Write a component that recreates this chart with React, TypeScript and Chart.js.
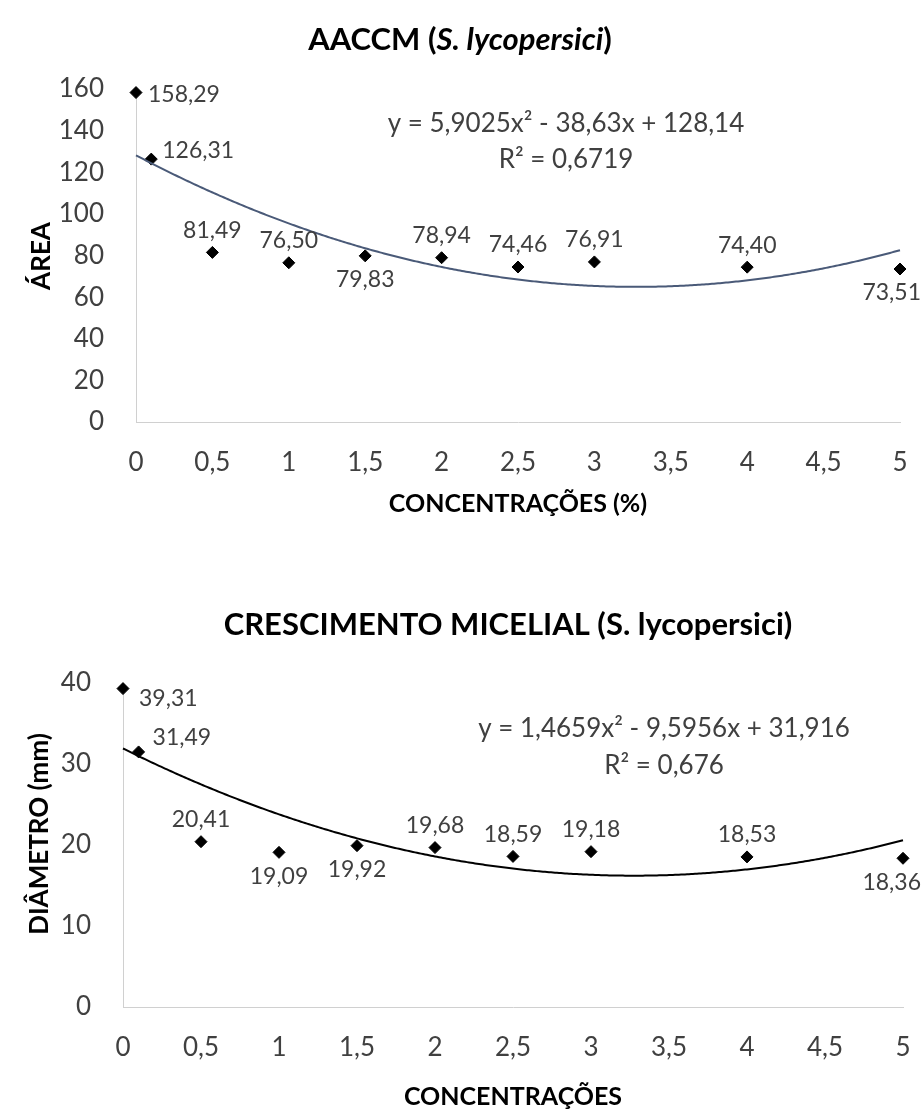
import React, { useEffect, useRef } from 'react';
import { Chart, registerables } from 'chart.js';

Chart.register(...registerables);

// ---------- DATA ----------
const concentrations = [0, 0.1, 0.5, 1, 1.5, 2, 2.5, 3, 4, 5];
const areaValues = [158.29, 126.31, 81.49, 76.5, 79.83, 78.94, 74.46, 76.91, 74.4, 73.51];
const diameterValues = [39.31, 31.49, 20.41, 19.09, 19.92, 19.68, 18.59, 19.18, 18.53, 18.36];
const areaTrendCoef = [5.9025, -38.63, 128.14]; // a, b, c of a*x^2 + b*x + c
const diameterTrendCoef = [1.4659, -9.5956, 31.916];
const xTickValues = [0, 0.5, 1, 1.5, 2, 2.5, 3, 3.5, 4, 4.5, 5];
const areaTickValues = [0, 20, 40, 60, 80, 100, 120, 140, 160];
const diameterTickValues = [0, 10, 20, 30, 40];
const areaLabelPos = ['right', 'upRight', 'top', 'top', 'bottom', 'top', 'top', 'top', 'top', 'bottom'];
const diameterLabelPos = ['rightDown', 'upRight2', 'top', 'bottom', 'bottom', 'top', 'top', 'top', 'top', 'bottom'];
const areaEquation = ['y = 5,9025x² - 38,63x + 128,14', 'R² = 0,6719'];
const diameterEquation = ['y = 1,4659x² - 9,5956x + 31,916', 'R² = 0,676'];

const FONT = 'Lato, "Open Sans", sans-serif';
const TEXT = '#404040';
const LABEL_MAX_RIGHT = 921;

const fmtTick = (v: number) => String(v).replace('.', ',');
const fmtLabel = (v: number) => v.toFixed(2).replace('.', ',');

const offsets: Record<string, [number, number, CanvasTextAlign]> = {
  right: [12, 2, 'left'],
  upRight: [11, -9, 'left'],
  upRight2: [14, -14, 'left'],
  rightDown: [16, 10, 'left'],
  top: [0, -22, 'center'],
  bottom: [0, 24, 'center'],
};

type TitleSeg = { text: string; italic?: boolean };

interface Cfg {
  height: number;
  padTop: number;
  padRight: number;
  yAxisWidth: number;
  xAxisHeight: number;
  values: number[];
  ticksY: number[];
  yMax: number;
  coef: number[];
  trendColor: string;
  labelPos: string[];
  title: TitleSeg[];
  titleX: number;
  titleY: number;
  yTitle: string;
  yTitleX: number;
  yTitleY: number;
  xTitle: string;
  xTitleY: number;
  eq: string[];
  eqX: number;
  eqY: number[];
}

function overlayPlugin(cfg: Cfg) {
  return {
    id: 'overlay',
    afterDatasetsDraw(chart: any) {
      const ctx: CanvasRenderingContext2D = chart.ctx;
      const xs = chart.scales.x;
      const ys = chart.scales.y;
      const area = chart.chartArea;
      // trendline from the printed coefficients
      ctx.save();
      ctx.beginPath();
      ctx.strokeStyle = cfg.trendColor;
      ctx.lineWidth = 2;
      const [a, b, c] = cfg.coef;
      let first = true;
      for (let px = area.left; ; px += 2) {
        const cx = Math.min(px, area.right);
        const xv = xs.getValueForPixel(cx);
        const yv = a * xv * xv + b * xv + c;
        const py = ys.getPixelForValue(yv);
        if (first) {
          ctx.moveTo(cx, py);
          first = false;
        } else ctx.lineTo(cx, py);
        if (cx >= area.right) break;
      }
      ctx.stroke();
      ctx.restore();

      // data labels
      const meta = chart.getDatasetMeta(0);
      ctx.save();
      ctx.font = `23px ${FONT}`;
      ctx.fillStyle = TEXT;
      ctx.textBaseline = 'middle';
      meta.data.forEach((pt: any, i: number) => {
        const [dx, dy, align] = offsets[cfg.labelPos[i]];
        const txt = fmtLabel(cfg.values[i]);
        const w = ctx.measureText(txt).width;
        let left = align === 'center' ? pt.x + dx - w / 2 : pt.x + dx;
        if (left + w > LABEL_MAX_RIGHT) left = LABEL_MAX_RIGHT - w;
        ctx.textAlign = 'left';
        ctx.fillText(txt, left, pt.y + dy);
      });
      ctx.restore();

      // equation
      ctx.save();
      ctx.font = `26px ${FONT}`;
      ctx.fillStyle = TEXT;
      ctx.textAlign = 'center';
      ctx.textBaseline = 'middle';
      cfg.eq.forEach((t, i) => ctx.fillText(t, cfg.eqX, cfg.eqY[i]));
      ctx.restore();

      // chart title with italic segments
      ctx.save();
      ctx.fillStyle = '#000';
      ctx.textBaseline = 'middle';
      ctx.textAlign = 'left';
      const fontFor = (s: TitleSeg) => `${s.italic ? 'italic ' : ''}bold 31px ${FONT}`;
      let total = 0;
      cfg.title.forEach((s) => {
        ctx.font = fontFor(s);
        total += ctx.measureText(s.text).width;
      });
      let x = cfg.titleX - total / 2;
      cfg.title.forEach((s) => {
        ctx.font = fontFor(s);
        ctx.fillText(s.text, x, cfg.titleY);
        x += ctx.measureText(s.text).width;
      });
      ctx.restore();

      // x axis title
      ctx.save();
      ctx.font = `bold 25px ${FONT}`;
      ctx.fillStyle = '#000';
      ctx.textAlign = 'center';
      ctx.textBaseline = 'middle';
      ctx.fillText(cfg.xTitle, (area.left + area.right) / 2, cfg.xTitleY);
      ctx.restore();

      // y axis title
      ctx.save();
      ctx.font = `bold 26px ${FONT}`;
      ctx.fillStyle = '#000';
      ctx.textAlign = 'center';
      ctx.textBaseline = 'middle';
      ctx.translate(cfg.yTitleX, cfg.yTitleY);
      ctx.rotate(-Math.PI / 2);
      ctx.fillText(cfg.yTitle, 0, 0);
      ctx.restore();
    },
  };
}

function buildChart(canvas: HTMLCanvasElement, cfg: Cfg) {
  return new Chart(canvas, {
    type: 'scatter',
    data: {
      datasets: [
        {
          data: concentrations.map((x, i) => ({ x, y: cfg.values[i] })),
          pointStyle: 'rectRot',
          pointRadius: 6,
          pointBackgroundColor: '#000',
          pointBorderColor: '#000',
          pointBorderWidth: 1,
          showLine: false,
          clip: false,
        } as any,
      ],
    },
    options: {
      animation: false,
      responsive: false,
      maintainAspectRatio: false,
      events: [],
      layout: { padding: { top: cfg.padTop, right: cfg.padRight, left: 0, bottom: 0 } },
      plugins: { legend: { display: false }, tooltip: { enabled: false }, title: { display: false } },
      scales: {
        x: {
          type: 'linear',
          min: 0,
          max: 5,
          afterBuildTicks: (s: any) => {
            s.ticks = xTickValues.map((v) => ({ value: v }));
          },
          afterFit: (s: any) => {
            s.height = cfg.xAxisHeight;
            s.paddingLeft = 0;
            s.paddingRight = 0;
          },
          grid: { display: false, drawTicks: false },
          border: { display: true, color: '#d0d0d0', width: 1 },
          ticks: {
            padding: 25,
            color: TEXT,
            font: { family: FONT, size: 26 },
            maxRotation: 0,
            autoSkip: false,
            callback: (v: any) => fmtTick(Number(v)),
          },
        },
        y: {
          type: 'linear',
          min: 0,
          max: cfg.yMax,
          afterBuildTicks: (s: any) => {
            s.ticks = cfg.ticksY.map((v) => ({ value: v }));
          },
          afterFit: (s: any) => {
            s.width = cfg.yAxisWidth;
            s.paddingTop = 0;
            s.paddingBottom = 0;
          },
          grid: { display: false, drawTicks: false },
          border: { display: true, color: '#d0d0d0', width: 1 },
          ticks: {
            padding: 32,
            color: TEXT,
            font: { family: FONT, size: 26 },
            autoSkip: false,
            callback: (v: any) => fmtTick(Number(v)),
          },
        },
      },
    } as any,
    plugins: [overlayPlugin(cfg)],
  });
}

const TOP1 = 0;
const TOP2 = 560;

const cfg1: Cfg = {
  height: 540,
  padTop: 89,
  padRight: 24,
  yAxisWidth: 136,
  xAxisHeight: 540 - 422,
  values: areaValues,
  ticksY: areaTickValues,
  yMax: 160,
  coef: areaTrendCoef,
  trendColor: '#4a5a78',
  labelPos: areaLabelPos,
  title: [{ text: 'AACCM (' }, { text: 'S. lycopersici', italic: true }, { text: ')' }],
  titleX: 460,
  titleY: 40,
  yTitle: 'ÁREA',
  yTitleX: 42,
  yTitleY: 256,
  xTitle: 'CONCENTRAÇÕES (%)',
  xTitleY: 504,
  eq: areaEquation,
  eqX: 566,
  eqY: [124, 160],
};

const cfg2: Cfg = {
  height: 558,
  padTop: 683 - TOP2,
  padRight: 21,
  yAxisWidth: 123,
  xAxisHeight: 558 - (1007 - TOP2),
  values: diameterValues,
  ticksY: diameterTickValues,
  yMax: 40,
  coef: diameterTrendCoef,
  trendColor: '#000000',
  labelPos: diameterLabelPos,
  title: [{ text: 'CRESCIMENTO MICELIAL (S. lycopersici)' }],
  titleX: 508,
  titleY: 625 - TOP2,
  yTitle: 'DIÂMETRO (mm)',
  yTitleX: 40,
  yTitleY: 834 - TOP2,
  xTitle: 'CONCENTRAÇÕES',
  xTitleY: 1097 - TOP2,
  eq: diameterEquation,
  eqX: 664,
  eqY: [729 - TOP2, 766 - TOP2],
};

export default function App() {
  const ref1 = useRef<HTMLCanvasElement>(null);
  const ref2 = useRef<HTMLCanvasElement>(null);
  useEffect(() => {
    const c1 = buildChart(ref1.current!, cfg1);
    const c2 = buildChart(ref2.current!, cfg2);
    return () => {
      c1.destroy();
      c2.destroy();
    };
  }, []);
  return (
    <div style={{ position: 'absolute', left: 0, top: 0, width: 924, height: 1118, background: '#fff' }}>
      <canvas
        ref={ref1}
        width={924}
        height={cfg1.height}
        style={{ position: 'absolute', left: 0, top: TOP1, width: 924, height: cfg1.height }}
      />
      <canvas
        ref={ref2}
        width={924}
        height={cfg2.height}
        style={{ position: 'absolute', left: 0, top: TOP2, width: 924, height: cfg2.height }}
      />
    </div>
  );
}
